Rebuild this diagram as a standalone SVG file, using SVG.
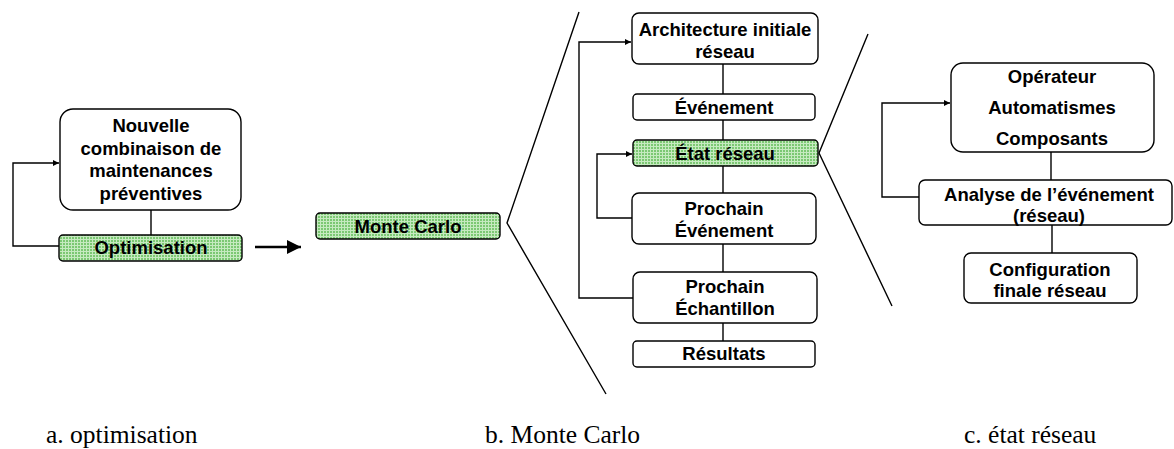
<svg xmlns="http://www.w3.org/2000/svg" width="1174" height="449" viewBox="0 0 1174 449">
<style>
.box{fill:#fff;stroke:#000;stroke-width:1.4}
.grn{fill:url(#dots);stroke:#000;stroke-width:1.4}
.t{font-family:"Liberation Sans",Arial,sans-serif;font-weight:bold;font-size:18.5px;text-anchor:middle;fill:#000}
.cap{font-family:"Liberation Serif","Times New Roman",serif;font-size:25.5px;fill:#000}
.ln{fill:none;stroke:#000;stroke-width:1.4}
.ar{fill:none;stroke:#000;stroke-width:1.4;marker-end:url(#ah)}
</style>
<defs>
<pattern id="dots" width="3" height="3" patternUnits="userSpaceOnUse">
<rect width="3" height="3" fill="#c6eac0"/>
<rect width="2" height="2" fill="#7cc873"/>
</pattern>
<marker id="ah" viewBox="0 0 10 10" refX="10" refY="5" markerWidth="7.5" markerHeight="6" markerUnits="userSpaceOnUse" orient="auto">
<path d="M0,0 L10,5 L0,10 z" fill="#000"/>
</marker>
<marker id="ahBig" viewBox="0 0 10 10" refX="10" refY="5" markerWidth="5.5" markerHeight="5.5" orient="auto">
<path d="M0,0 L10,5 L0,10 z" fill="#000"/>
</marker>
</defs>

<g id="connectors">
<line class="ln" x1="151" y1="210" x2="151" y2="235"/>
<polyline class="ar" points="59,246 13,246 13,163 59,163"/>
<line x1="255" y1="247" x2="301" y2="247" stroke="#000" stroke-width="2.6" marker-end="url(#ahBig)"/>
<polyline class="ln" points="579,12 507,223 606,394"/>
<polyline class="ln" points="868,34 819,153 892,306"/>
<line class="ln" x1="723" y1="64" x2="723" y2="94"/>
<line class="ln" x1="723" y1="120" x2="723" y2="140"/>
<line class="ln" x1="723" y1="166" x2="723" y2="193"/>
<line class="ln" x1="723" y1="244" x2="723" y2="272"/>
<line class="ln" x1="723" y1="323" x2="723" y2="341"/>
<polyline class="ar" points="633,218 597,218 597,154 632,154"/>
<polyline class="ar" points="633,298 579,298 579,42 631,42"/>
<line class="ln" x1="1051" y1="152" x2="1051" y2="180"/>
<line class="ln" x1="1052" y1="225" x2="1052" y2="253"/>
<polyline class="ar" points="919,197 882,197 882,103 950,103"/>
</g>

<g id="nouvelle">
<rect class="box" x="60" y="109" width="181" height="101" rx="13"/>
<text class="t" x="151" y="132">Nouvelle</text>
<text class="t" x="151" y="155">combinaison de</text>
<text class="t" x="151" y="177">maintenances</text>
<text class="t" x="151" y="200">préventives</text>
</g>
<g id="optimisation">
<rect class="grn" x="59" y="235" width="183" height="26" rx="4"/>
<text class="t" x="151" y="254">Optimisation</text>
</g>
<g id="montecarlo">
<rect class="grn" x="316" y="213" width="184" height="26" rx="4"/>
<text class="t" x="408" y="232.5">Monte Carlo</text>
</g>

<g id="architecture">
<rect class="box" x="632" y="13" width="186" height="51" rx="7"/>
<text class="t" x="725" y="36">Architecture initiale</text>
<text class="t" x="725" y="58">réseau</text>
</g>
<g id="evenement">
<rect class="box" x="633" y="94" width="182" height="26" rx="4"/>
<text class="t" x="724" y="114">Événement</text>
</g>
<g id="etat">
<rect class="grn" x="633" y="140" width="185" height="26" rx="4"/>
<text class="t" x="725" y="160">État réseau</text>
</g>
<g id="prochainevt">
<rect class="box" x="632" y="193" width="184" height="51" rx="7"/>
<text class="t" x="724" y="215">Prochain</text>
<text class="t" x="724" y="237">Événement</text>
</g>
<g id="prochainech">
<rect class="box" x="633" y="272" width="184" height="51" rx="7"/>
<text class="t" x="725" y="293">Prochain</text>
<text class="t" x="725" y="315">Échantillon</text>
</g>
<g id="resultats">
<rect class="box" x="633" y="341" width="182" height="26" rx="4"/>
<text class="t" x="724" y="360">Résultats</text>
</g>

<g id="operateur">
<rect class="box" x="951" y="63" width="203" height="89" rx="12"/>
<text class="t" x="1052" y="83">Opérateur</text>
<text class="t" x="1052" y="114">Automatismes</text>
<text class="t" x="1052" y="145">Composants</text>
</g>
<g id="analyse">
<rect class="box" x="919" y="180" width="253" height="45" rx="6"/>
<text class="t" x="1049" y="201">Analyse de l’événement</text>
<text class="t" x="1049" y="222">(réseau)</text>
</g>
<g id="configuration">
<rect class="box" x="964" y="253" width="173" height="50" rx="7"/>
<text class="t" x="1050" y="276">Configuration</text>
<text class="t" x="1050" y="297">finale réseau</text>
</g>

<g id="captions">
<text class="cap" x="46" y="443">a. optimisation</text>
<text class="cap" x="485" y="443">b. Monte Carlo</text>
<text class="cap" x="964" y="443">c. état réseau</text>
</g>
</svg>
